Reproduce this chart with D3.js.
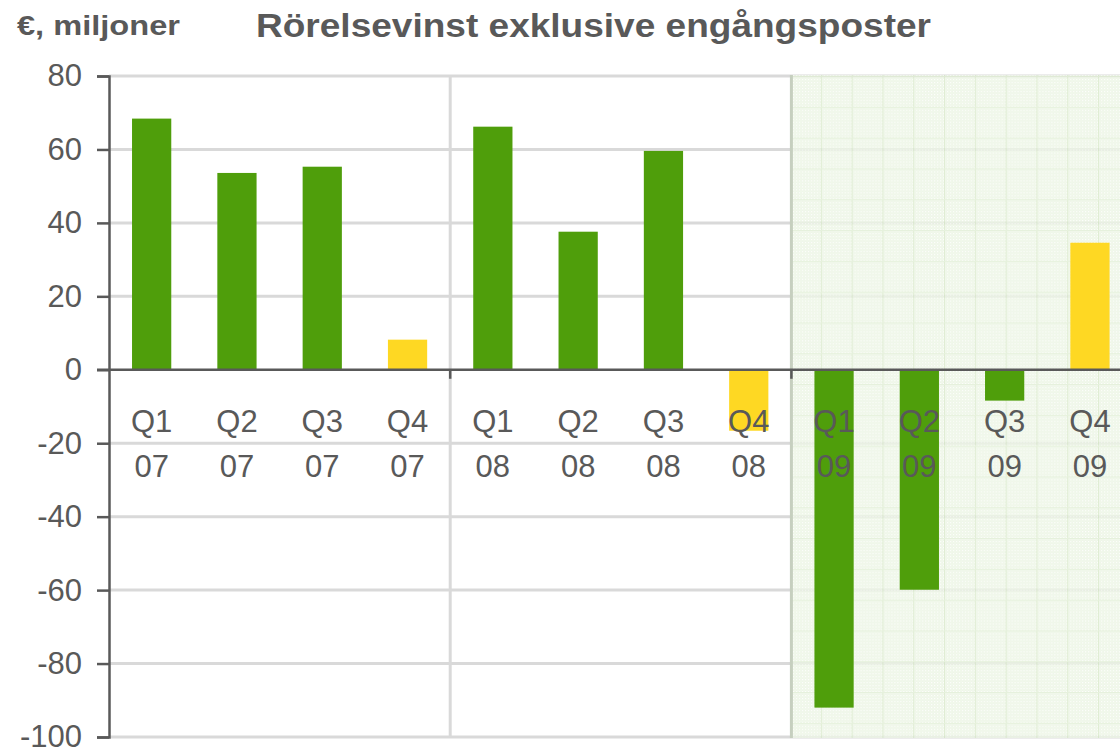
<!DOCTYPE html>
<html>
<head>
<meta charset="utf-8">
<script src="https://cdn.jsdelivr.net/npm/d3@7"></script>
<style>
  html, body { margin: 0; padding: 0; background: #fff; }
  svg { display: block; font-family: "Liberation Sans", Arial, sans-serif; }
</style>
</head>
<body>
<div class="forSvg"></div>
<script>
// chart data
const quarters = ["Q1", "Q2", "Q3", "Q4", "Q1", "Q2", "Q3", "Q4", "Q1", "Q2", "Q3", "Q4"];
const years = ["07", "07", "07", "07", "08", "08", "08", "08", "09", "09", "09", "09"];
const profit = [68.4, 53.6, 55.3, 8.2, 66.2, 37.6, 59.6, -16.6, -92.0, -59.9, -8.4, 34.6];
// Q4 bars are drawn yellow
const barKind = ["q", "q", "q", "q4", "q", "q", "q", "q4", "q", "q", "q", "q4"];
const yTicks = [80, 60, 40, 20, 0, -20, -40, -60, -80, -100];

// size of svg
const svg_w = 1120;
const svg_h = 751;
// plot area
const plotLeft = 109;
const plotTop = 76;
const plotBottom = 737;
const step = 85.3;

const textColor = "#595959";
const colors = { q: "#4f9e0b", q4: "#fed823" };

const idx = d3.range(profit.length);

const xScale = d3.scaleBand()
    .domain(idx)
    .range([plotLeft, plotLeft + step * idx.length])
    .paddingInner(0.54)
    .paddingOuter(0.27);

const yScale = d3.scaleLinear()
    .domain([-100, 80])
    .range([plotBottom, plotTop]);

const svg = d3.select(".forSvg")
    .append("svg")
    .attr("width", svg_w)
    .attr("height", svg_h);

// pattern for the shaded 2009 area
const defs = svg.append("defs");
const dots = defs.append("pattern")
    .attr("id", "dots")
    .attr("patternUnits", "userSpaceOnUse")
    .attr("width", 3).attr("height", 3);
dots.append("rect").attr("width", 3).attr("height", 3).attr("fill", "#eaf4e2");
dots.append("rect").attr("width", 1).attr("height", 1).attr("fill", "#ffffff");
dots.append("rect").attr("x", 1.5).attr("y", 1.5).attr("width", 1).attr("height", 1).attr("fill", "#f8fcf4");

const grid = defs.append("pattern")
    .attr("id", "shadegrid")
    .attr("patternUnits", "userSpaceOnUse")
    .attr("x", 790).attr("y", plotTop)
    .attr("width", 30.8).attr("height", 30.8);
grid.append("rect").attr("width", 30.8).attr("height", 30.8).attr("fill", "url(#dots)");
grid.append("rect").attr("x", 0).attr("width", 1).attr("height", 30.8).attr("fill", "#d8e9c9");
grid.append("rect").attr("y", 0).attr("width", 30.8).attr("height", 1).attr("fill", "#e0eed4");

// horizontal gridlines
svg.append("g")
    .selectAll("line")
    .data(yTicks.filter(d => d !== 0))
    .enter()
    .append("line")
    .attr("x1", plotLeft)
    .attr("x2", svg_w)
    .attr("y1", d => yScale(d))
    .attr("y2", d => yScale(d))
    .attr("stroke", "#d9d9d9")
    .attr("stroke-width", 3);

// year separator (between 07 and 08)
const sep1 = xScale(4) - xScale.step() * xScale.paddingInner() / 2;
const sep2 = xScale(8) - xScale.step() * xScale.paddingInner() / 2;
svg.append("line")
    .attr("x1", sep1).attr("x2", sep1)
    .attr("y1", plotTop).attr("y2", plotBottom)
    .attr("stroke", "#d9d9d9")
    .attr("stroke-width", 3);

// shaded 2009 area
svg.append("rect")
    .attr("x", sep2)
    .attr("y", plotTop - 1)
    .attr("width", svg_w - sep2)
    .attr("height", plotBottom - plotTop + 2)
    .attr("fill", "url(#shadegrid)")
    .attr("opacity", 0.8);
svg.append("line")
    .attr("x1", sep2).attr("x2", sep2)
    .attr("y1", plotTop - 1).attr("y2", plotBottom + 1)
    .attr("stroke", "#c6cfbf")
    .attr("stroke-width", 3);

// bars
svg.append("g")
    .selectAll("rect")
    .data(idx)
    .enter()
    .append("rect")
    .attr("x", i => xScale(i))
    .attr("y", i => yScale(Math.max(0, profit[i])))
    .attr("width", xScale.bandwidth())
    .attr("height", i => Math.abs(yScale(profit[i]) - yScale(0)))
    .attr("fill", i => colors[barKind[i]]);

// y axis (plain hyphen for negatives, like the original)
const yAxis = d3.axisLeft(yScale)
    .tickValues(yTicks)
    .tickSize(12)
    .tickPadding(15)
    .tickFormat(d => String(d));

const yG = svg.append("g")
    .attr("transform", "translate(" + plotLeft + ",0)")
    .call(yAxis);
yG.select(".domain").attr("stroke", textColor).attr("stroke-width", 2.5);
yG.selectAll(".tick line").attr("stroke", textColor).attr("stroke-width", 2.5);
yG.selectAll(".tick text")
    .attr("fill", textColor)
    .style("font-size", "31px")
    .style("font-family", "'Liberation Sans', Arial, sans-serif");

// x axis at zero
const y0 = yScale(0);
svg.append("line")
    .attr("x1", plotLeft - 12)
    .attr("x2", svg_w)
    .attr("y1", y0).attr("y2", y0)
    .attr("stroke", textColor)
    .attr("stroke-width", 2.5);
svg.append("g")
    .selectAll("line")
    .data([sep1, sep2])
    .enter()
    .append("line")
    .attr("x1", d => d).attr("x2", d => d)
    .attr("y1", y0).attr("y2", y0 + 9)
    .attr("stroke", textColor)
    .attr("stroke-width", 2.5);

// category labels (quarter + year)
const labels = svg.append("g")
    .attr("fill", textColor)
    .style("font-size", "31px")
    .attr("text-anchor", "middle");
labels.selectAll(".qlab")
    .data(idx)
    .enter()
    .append("text")
    .attr("class", "qlab")
    .attr("x", i => xScale(i) + xScale.bandwidth() / 2)
    .attr("y", 432)
    .text(i => quarters[i]);
labels.selectAll(".ylab")
    .data(idx)
    .enter()
    .append("text")
    .attr("class", "ylab")
    .attr("x", i => xScale(i) + xScale.bandwidth() / 2)
    .attr("y", 477)
    .text(i => years[i]);

// unit label
svg.append("text")
    .attr("x", 17)
    .attr("y", 35)
    .attr("fill", textColor)
    .style("font-size", "27px")
    .style("font-weight", "bold")
    .attr("textLength", 163)
    .attr("lengthAdjust", "spacingAndGlyphs")
    .text("€, miljoner");

// title
svg.append("text")
    .attr("x", 256)
    .attr("y", 37)
    .attr("fill", textColor)
    .style("font-size", "34px")
    .style("font-weight", "bold")
    .attr("textLength", 675)
    .attr("lengthAdjust", "spacingAndGlyphs")
    .text("Rörelsevinst exklusive engångsposter");
</script>
</body>
</html>
